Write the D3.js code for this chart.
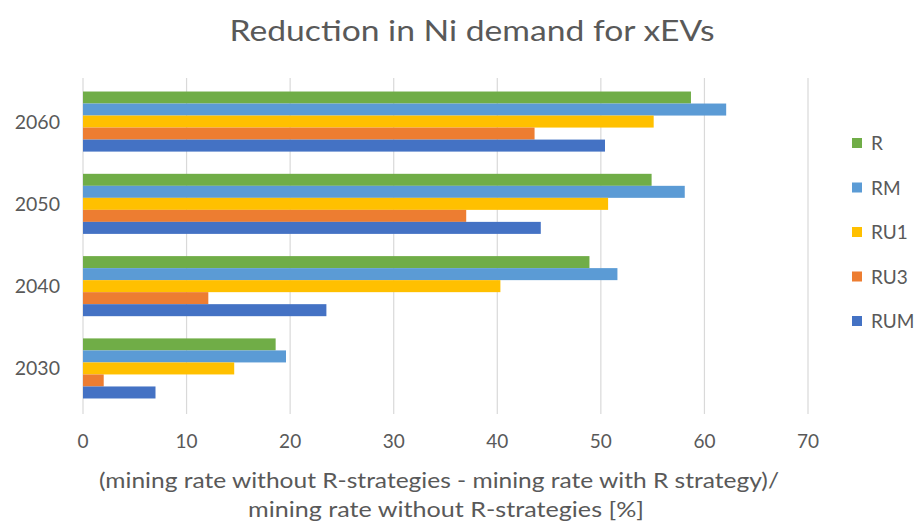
<!DOCTYPE html>
<html><head><meta charset="utf-8">
<script src="https://cdn.jsdelivr.net/npm/d3@7"></script>
<style>body{margin:0;background:#fff}svg{display:block}text{font-family:Lato,"Open Sans",sans-serif;fill:#595959}</style>
</head><body><svg id="c" width="920" height="527"></svg>
<script>
const years = ["2060","2050","2040","2030"];
const seriesNames = ["R","RM","RU1","RU3","RUM"];
const seriesColors = ["#70AD47","#5B9BD5","#FFC000","#ED7D31","#4472C4"];
const R   = [58.7, 54.9, 48.9, 18.6];
const RM  = [62.1, 58.1, 51.6, 19.6];
const RU1 = [55.1, 50.7, 40.3, 14.6];
const RU3 = [43.6, 37.0, 12.1, 2.0];
const RUM = [50.4, 44.2, 23.5, 7.0];
const xTicks = [0,10,20,30,40,50,60,70];
const seriesValues = [R, RM, RU1, RU3, RUM];

const svg = d3.select("#c");
const x = d3.scaleLinear().domain([0,70]).range([83,808]);
const y = d3.scaleBand().domain(years).range([80,410]).paddingInner(0.27).paddingOuter(0.14);
const y1 = d3.scaleBand().domain(seriesNames).range([0,y.bandwidth()]);

svg.append("text").attr("x",472).attr("y",41).attr("text-anchor","middle")
  .attr("textLength",485).attr("lengthAdjust","spacingAndGlyphs")
  .style("font-size","28px").text("Reduction in Ni demand for xEVs");

svg.append("g").selectAll("line").data(xTicks).join("line")
  .attr("x1",d=>x(d)).attr("x2",d=>x(d)).attr("y1",78).attr("y2",414)
  .attr("stroke","#d9d9d9").attr("stroke-width",1.2);

const g = svg.append("g");
years.forEach((yr,i)=>{
  seriesNames.forEach((s,j)=>{
    g.append("rect").attr("x",x(0)).attr("y",y(yr)+y1(s))
     .attr("width",x(seriesValues[j][i])-x(0)).attr("height",y1.bandwidth())
     .attr("fill",seriesColors[j]);
  });
});

svg.append("g").selectAll("text").data(xTicks).join("text")
  .attr("x",d=>x(d)).attr("y",448).attr("text-anchor","middle")
  .style("font-size","19px").text(d=>d);

svg.append("g").selectAll("text").data(years).join("text")
  .attr("x",60).attr("y",d=>y(d)+y.bandwidth()/2+7).attr("text-anchor","end")
  .style("font-size","19.5px").text(d=>d);

svg.append("text").attr("x",439).attr("y",488).attr("text-anchor","middle")
  .attr("textLength",680).attr("lengthAdjust","spacingAndGlyphs")
  .style("font-size","22px").text("(mining rate without R-strategies - mining rate with R strategy)/");
svg.append("text").attr("x",446).attr("y",517).attr("text-anchor","middle")
  .attr("textLength",396).attr("lengthAdjust","spacingAndGlyphs")
  .style("font-size","22px").text("mining rate without R-strategies [%]");

const lg = svg.append("g");
seriesNames.forEach((s,j)=>{
  const yy = 143 + j*44.5;
  lg.append("rect").attr("x",852).attr("y",yy-5).attr("width",10).attr("height",10).attr("fill",seriesColors[j]);
  lg.append("text").attr("x",871).attr("y",yy+7).style("font-size","19px").text(s);
});
</script></body></html>
